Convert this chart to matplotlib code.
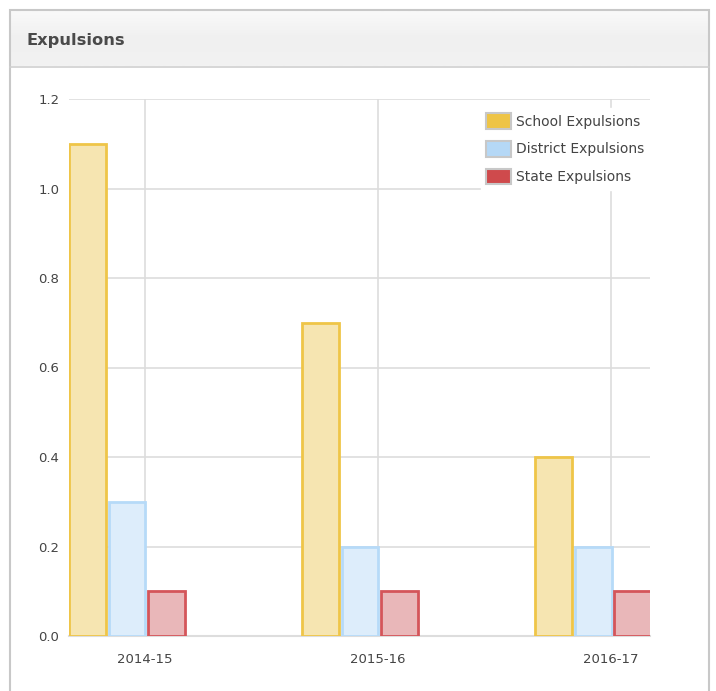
import numpy as np
import matplotlib.pyplot as plt
from matplotlib.colors import LinearSegmentedColormap
from matplotlib.patches import Rectangle, Patch

# данные
years = ['2014-15', '2015-16', '2016-17']
school = [1.1, 0.7, 0.4]
district = [0.3, 0.2, 0.2]
state = [0.1, 0.1, 0.1]

series_names = ['School Expulsions', 'District Expulsions', 'State Expulsions']
fills = ['#f6e5b1', '#ddedfb', '#e9b7b9']
edges = ['#efc548', '#b6daf8', '#d4555a']
legend_colors = ['#eec446', '#b5d8f6', '#cf4a4c']

fig = plt.figure(figsize=(7.16, 6.91), dpi=100)

# пиксели -> доли фигуры
W, H = 716, 691
def fx(px):
    return px / W
def fy(py):
    return 1 - py / H

# градиент заголовка
grad = np.linspace(0, 1, 50).reshape(-1, 1)
hax = fig.add_axes([fx(11), fy(66), fx(697), fy(11) - fy(66)])
hax.imshow(grad, aspect='auto', extent=[0, 1, 0, 1],
           cmap=LinearSegmentedColormap.from_list('hdr', ['#f9f9f9', '#f0f0f0', '#f2f2f2']))
hax.axis('off')

# рамка панели
fig.add_artist(Rectangle((fx(10), fy(700)), fx(699), fy(10) - fy(700),
                         transform=fig.transFigure, facecolor='none',
                         edgecolor='#c8c8c8', linewidth=1.5))
fig.add_artist(plt.Line2D([fx(10), fx(709)], [fy(66.5), fy(66.5)],
                          transform=fig.transFigure, color='#cfcfcf', linewidth=1.2))
fig.text(fx(27), fy(41), 'Expulsions', fontsize=11.7, fontweight='bold',
         color='#4a4a4a', va='center', ha='left')

ax = fig.add_axes([fx(69), fy(636), fx(650) - fx(69), fy(99) - fy(636)])

x = np.arange(len(years))
width = 0.158
offsets = [-0.247, -0.077, 0.092]
for vals, off, fc, ec in zip([school, district, state], offsets, fills, edges):
    ax.bar(x + off, vals, width, color=fc, edgecolor=ec, linewidth=2, zorder=3)

ax.set_xlim(-0.326, 2.167)
ax.set_ylim(0, 1.2)
ticks = np.arange(0, 1.21, 0.2)
ax.set_yticks(ticks)
ax.set_yticklabels([f'{v:.1f}' for v in ticks])
ax.set_xticks(x)
ax.set_xticklabels(years)
ax.grid(True, color='#dddddd', linewidth=1.2, zorder=0)
ax.set_axisbelow(True)
for s in ['top', 'right', 'left']:
    ax.spines[s].set_visible(False)
ax.spines['bottom'].set_color('#dddddd')
ax.spines['bottom'].set_linewidth(1.5)
ax.tick_params(length=0, labelsize=9.5, labelcolor='#444444')
ax.tick_params(axis='y', pad=7)
ax.tick_params(axis='x', pad=12)

handles = [Patch(facecolor=c, edgecolor='#c8c8c8', linewidth=1.5) for c in legend_colors]
leg = ax.legend(handles, series_names, loc='upper right', bbox_to_anchor=(1.0, 0.984),
                frameon=True, fancybox=False, framealpha=1, edgecolor='white',
                fontsize=10, labelcolor='#444444', handlelength=1.8, handleheight=1.35,
                handletextpad=0.36, labelspacing=0.88, borderpad=0.4, borderaxespad=0)

fig.savefig('out.png', dpi=100)
